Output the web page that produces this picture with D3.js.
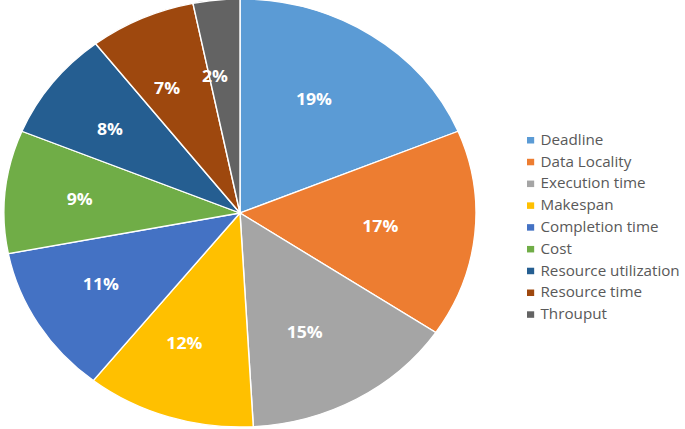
<!DOCTYPE html>
<html>
<head>
<meta charset="utf-8">
<script src="https://cdn.jsdelivr.net/npm/d3@7"></script>
<style>
  body { margin: 0; background: #fff; }
</style>
</head>
<body>
<div id="chart"></div>
<script>
// categories and their shares, plus the printed labels
const categories = ["Deadline", "Data Locality", "Execution time", "Makespan", "Completion time",
                    "Cost", "Resource utilization", "Resource time", "Throuput"];
const shares = [18.8, 15.7, 14.7, 11.6, 11.3, 9.3, 8.3, 7.3, 3.2];
const pctLabels = ["19%", "17%", "15%", "12%", "11%", "9%", "8%", "7%", "2%"];
const colors = ["#5B9BD5", "#ED7D31", "#A5A5A5", "#FFC000", "#4472C4",
                "#70AD47", "#255E91", "#9E480E", "#636363"];

const width = 685, height = 429;
const sx = 236 / 214; // picture is stretched horizontally
const r = 214;
const cx = 240 / sx, cy = 213;

const data = categories.map((c, i) => ({ name: c, value: shares[i], label: pctLabels[i], color: colors[i] }));

const svg = d3.select("#chart")
    .append("svg")
    .attr("width", width)
    .attr("height", height);

const root = svg.append("g")
    .attr("transform", `scale(${sx},1)`);

const pie = d3.pie()
    .sort(null)
    .value(d => d.value);

const arc = d3.arc()
    .innerRadius(0)
    .outerRadius(r);

const labelArc = d3.arc()
    .innerRadius(r * 0.64)
    .outerRadius(r * 0.64);

const g = root.append("g")
    .attr("transform", `translate(${cx},${cy})`);

g.selectAll("path")
    .data(pie(data))
    .enter().append("path")
    .attr("d", arc)
    .attr("fill", d => d.data.color)
    .attr("stroke", "#fff")
    .attr("stroke-width", 1.3);

g.selectAll("text")
    .data(pie(data))
    .enter().append("text")
    .attr("transform", d => {
        const [x, y] = labelArc.centroid(d);
        return `translate(${x - 10 / sx},${y})`;
    })
    .attr("text-anchor", "middle")
    .attr("dy", "0.35em")
    .style("font-family", "'Open Sans', sans-serif")
    .style("font-weight", "bold")
    .style("font-size", "16px")
    .style("fill", "#fff")
    .text(d => d.data.label);

// legend
const ly = d3.scalePoint()
    .domain(categories)
    .range([140, 314.3]);

const legend = root.append("g")
    .attr("transform", `translate(${527 / sx},0)`);

const item = legend.selectAll("g")
    .data(data)
    .enter().append("g")
    .attr("transform", d => `translate(0,${ly(d.name)})`);

item.append("rect")
    .attr("x", 0)
    .attr("y", -3)
    .attr("width", 6.5)
    .attr("height", 6.5)
    .attr("fill", d => d.color);

item.append("text")
    .attr("x", 13.5 / sx)
    .attr("dy", "0.35em")
    .style("font-family", "'Open Sans', sans-serif")
    .style("font-size", "13.8px")
    .style("fill", "#595959")
    .text(d => d.name);
</script>
</body>
</html>
